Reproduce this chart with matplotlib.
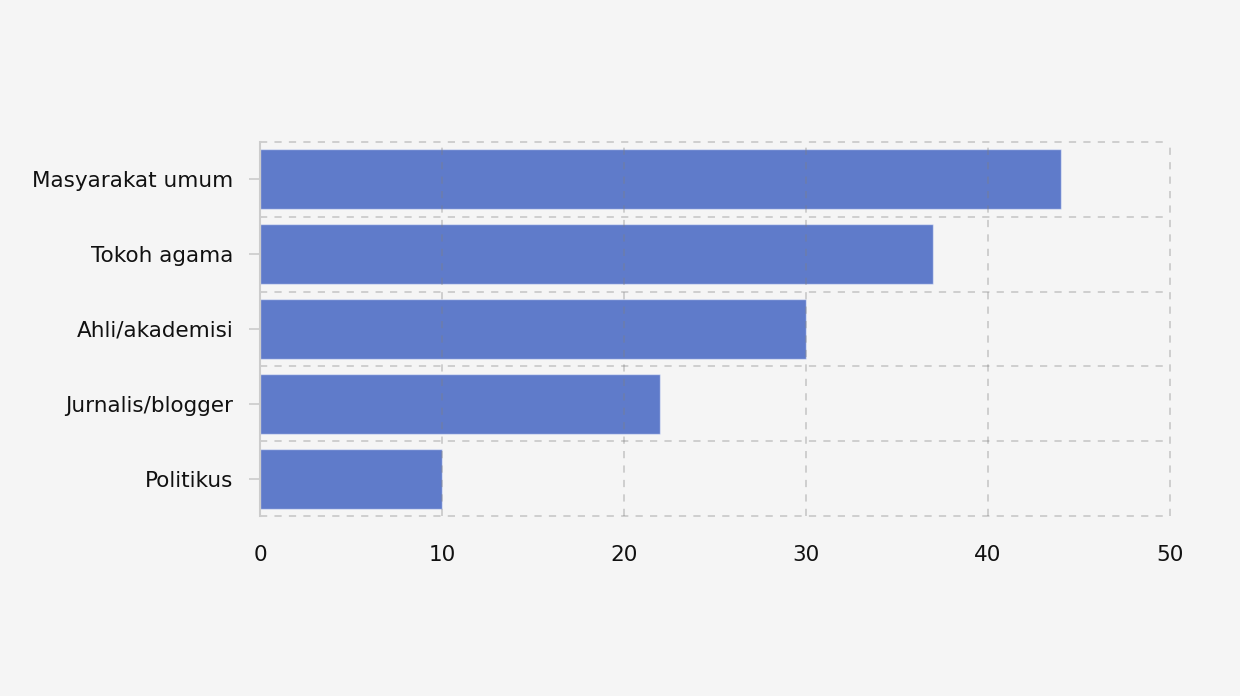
import matplotlib
matplotlib.use("Agg")
import matplotlib.pyplot as plt
import numpy as np

categories = ["Masyarakat umum", "Tokoh agama", "Ahli/akademisi", "Jurnalis/blogger", "Politikus"]
values = [44, 37, 30, 22, 10]
x_ticks = [0, 10, 20, 30, 40, 50]

bg = "#f5f5f5"
bar_color = "#5f7bca"

fig = plt.figure(figsize=(12.4, 6.96), dpi=100, facecolor=bg)
ax = fig.add_axes([260/1240, 1-516/696, 910/1240, 374/696])
ax.set_facecolor(bg)

y = np.arange(len(categories))
ax.barh(y, values, height=0.8, color=bar_color, edgecolor=(1, 1, 1, 0.5), linewidth=1, zorder=1)

ax.set_xlim(0, 50)
ax.set_ylim(len(categories) - 0.5, -0.5)
ax.set_yticks(y)
ax.set_yticklabels(categories)
ax.set_xticks(x_ticks)
ax.set_xticklabels([str(t) for t in x_ticks])

# grid: vertical at x ticks, horizontal at category boundaries
ax.set_yticks(np.arange(-0.5, len(categories), 1.0), minor=True)
ax.grid(False)
ax.xaxis.grid(True, which="major", color="#808080", alpha=0.35, linestyle=(0, (4, 4)), linewidth=1.3, zorder=3)
ax.yaxis.grid(True, which="minor", color="#808080", alpha=0.35, linestyle=(0, (4, 4)), linewidth=1.3, zorder=3)
ax.set_axisbelow(False)

for s in ["top", "right", "bottom"]:
    ax.spines[s].set_visible(False)
ax.spines["left"].set_color("#cccccc")
ax.spines["left"].set_linewidth(1.5)
ax.spines["left"].set_zorder(4)

ax.tick_params(axis="y", which="major", length=8, color="#cccccc", width=1.2, pad=11, labelsize=15.5, labelcolor="#111111")
ax.tick_params(axis="y", which="minor", length=0)
ax.tick_params(axis="x", length=0, pad=21, labelsize=15.5, labelcolor="#111111")

for t in ax.xaxis.get_major_ticks() + ax.yaxis.get_minor_ticks():
    t.gridline.set_clip_on(False)

fig.savefig("out.png", dpi=100, facecolor=bg)
